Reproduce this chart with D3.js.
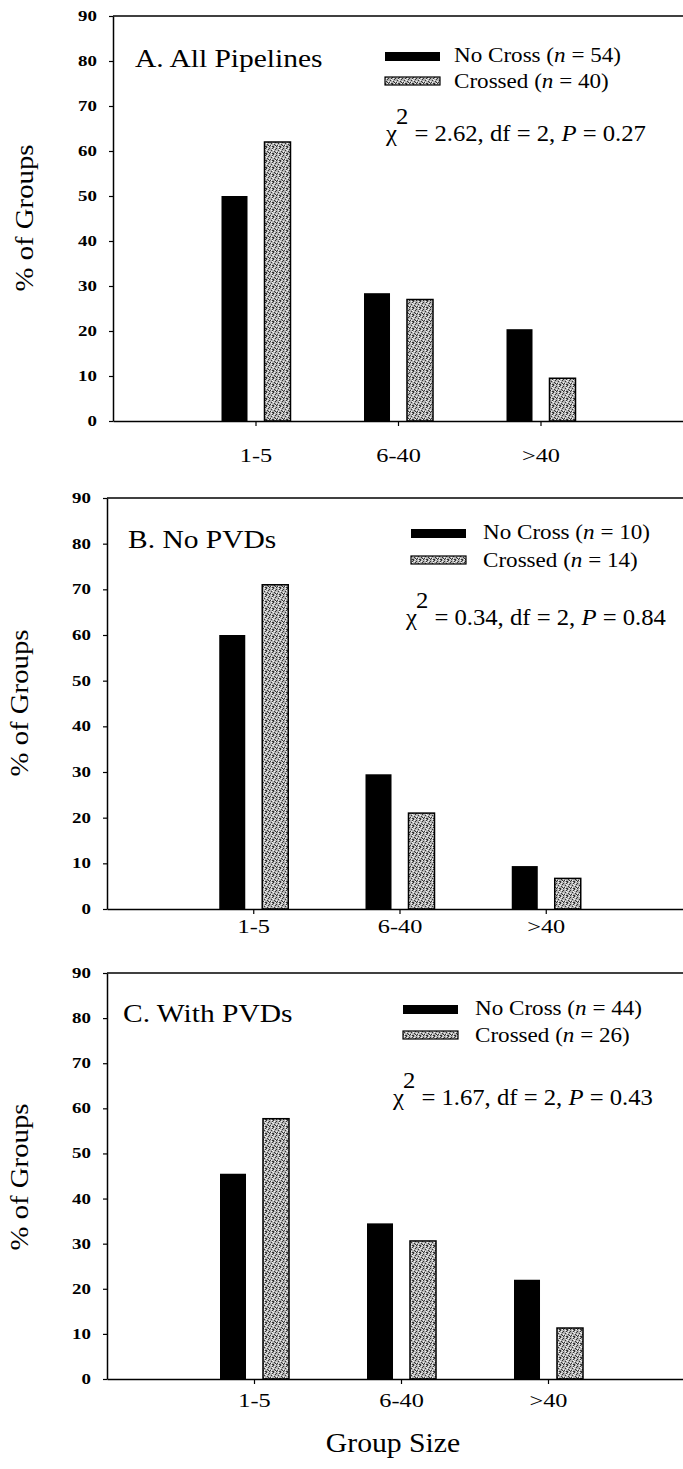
<!doctype html>
<html>

<head>
    <meta charset="UTF-8">
    <title>group size by crossing</title>
    <script src="https://d3js.org/d3.v7.min.js"></script>
    <style>
        body {
            margin: 0;
            background: #fff;
        }

        text {
            font-family: "Liberation Serif", "Times New Roman", serif;
            fill: #000;
        }
    </style>
</head>

<body>
    <svg width="683" height="1469"></svg>
    <script>
        // data
        var categories = ["1-5", "6-40", ">40"];
        var yTicks = [0, 10, 20, 30, 40, 50, 60, 70, 80, 90];
        var panelTitles = ["A. All Pipelines", "B. No PVDs", "C. With PVDs"];
        var noCrossA = [50, 28.4, 20.4];
        var crossedA = [62, 27, 9.5];
        var noCrossB = [60, 29.5, 9.4];
        var crossedB = [71, 21, 6.7];
        var noCrossC = [45.5, 34.5, 22];
        var crossedC = [57.7, 30.6, 11.3];
        var nNoCross = [54, 10, 44];
        var nCrossed = [40, 14, 26];
        var chiSq = ["2.62", "0.34", "1.67"];
        var pValues = ["0.27", "0.84", "0.43"];

        var svg = d3.select("svg");

        // speckled fill for the "Crossed" bars
        var pat = svg.append("defs").append("pattern")
            .attr("id", "stipple")
            .attr("patternUnits", "userSpaceOnUse")
            .attr("width", 7)
            .attr("height", 7);
        pat.append("rect").attr("width", 7).attr("height", 7).attr("fill", "#b2b2b2");
        var dark = [[0, 0], [3, 1], [5, 3], [1, 4], [4, 5], [6, 6], [2, 2], [0, 6], [6, 1], [3, 6], [2, 5]];
        var light = [[1, 1], [5, 0], [3, 4], [6, 2], [2, 6], [0, 3], [5, 5]];
        dark.forEach(function (p) {
            pat.append("rect").attr("x", p[0]).attr("y", p[1]).attr("width", 1).attr("height", 1).attr("fill", "#333");
        });
        light.forEach(function (p) {
            pat.append("rect").attr("x", p[0]).attr("y", p[1]).attr("width", 1).attr("height", 1).attr("fill", "#f4f4f4");
        });

        var panels = [
            { x0: 113, xR: 683, top: 16, bottom: 421, noCross: noCrossA, crossed: crossedA,
              title: [135, 67], swX: 385, txX: 454, row1: 62, row2: 88, chiX: 386, chiY: 141, yLab: [33, 218], xLab: 41 },
            { x0: 107, xR: 692, top: 498, bottom: 909, noCross: noCrossB, crossed: crossedB,
              title: [128, 548], swX: 411, txX: 483, row1: 539, row2: 567, chiX: 406, chiY: 625, yLab: [28, 703], xLab: 24 },
            { x0: 107, xR: 695, top: 973, bottom: 1379, noCross: noCrossC, crossed: crossedC,
              title: [123, 1022], swX: 403, txX: 475, row1: 1015, row2: 1042, chiX: 393, chiY: 1105, yLab: [28, 1177], xLab: 28 }
        ];

        function label(g, x, y, size, sx, anchor) {
            return g.append("text")
                .attr("transform", "translate(" + x + "," + y + ") scale(" + sx + ",1)")
                .attr("font-size", size)
                .attr("text-anchor", anchor || "start");
        }

        panels.forEach(function (p, k) {
            var g = svg.append("g");
            var x = d3.scaleLinear().domain([0, 4]).range([p.x0, p.xR]);
            var y = d3.scaleLinear().domain([0, 90]).range([p.bottom, p.top]);
            var sub = d3.scaleBand().domain(["noCross", "crossed"]).range([-34, 35]).paddingInner(0.395);

            // bars
            var rows = categories.map(function (c, i) {
                return { i: i + 1, noCross: p.noCross[i], crossed: p.crossed[i] };
            });
            g.selectAll(".nc").data(rows).enter().append("rect")
                .attr("x", function (d) { return x(d.i) + sub("noCross"); })
                .attr("y", function (d) { return y(d.noCross); })
                .attr("width", sub.bandwidth())
                .attr("height", function (d) { return y(0) - y(d.noCross); })
                .attr("fill", "#000");
            g.selectAll(".cr").data(rows).enter().append("rect")
                .attr("x", function (d) { return x(d.i) + sub("crossed"); })
                .attr("y", function (d) { return y(d.crossed); })
                .attr("width", sub.bandwidth())
                .attr("height", function (d) { return y(0) - y(d.crossed); })
                .attr("fill", "url(#stipple)")
                .attr("stroke", "#000")
                .attr("stroke-width", 1.5);

            // top frame line
            g.append("line")
                .attr("x1", p.x0).attr("x2", 683)
                .attr("y1", y(90)).attr("y2", y(90))
                .attr("stroke", "#000").attr("stroke-width", 1.5);

            // y axis
            var sy = 1.35;
            var ya = g.append("g")
                .attr("transform", "translate(" + p.x0 + ",0)")
                .call(d3.axisLeft(y).tickValues(yTicks).tickSize(4).tickSizeOuter(0));
            ya.select(".domain").attr("stroke-width", 1.5);
            ya.selectAll(".tick line").attr("stroke-width", 1.2);
            ya.selectAll(".tick text")
                .attr("x", -16 / sy)
                .attr("transform", "scale(" + sy + ",1)")
                .attr("font-size", 14)
                .attr("font-weight", "bold")
                .attr("font-family", "Liberation Serif, serif");

            // x axis
            var sxl = 1.28;
            var xa = g.append("g")
                .attr("transform", "translate(0," + y(0) + ")")
                .call(d3.axisBottom(x).tickValues([1, 2, 3])
                    .tickFormat(function (v) { return categories[v - 1]; })
                    .tickSize(5).tickSizeOuter(0));
            xa.select(".domain").attr("stroke-width", 1.5);
            xa.selectAll(".tick line").attr("stroke-width", 1.2);
            xa.selectAll(".tick text")
                .attr("y", p.xLab)
                .attr("dy", 0)
                .attr("transform", "scale(" + sxl + ",1)")
                .attr("font-size", 19)
                .attr("font-family", "Liberation Serif, serif");

            // panel title
            label(g, p.title[0], p.title[1], 25, 1.18).text(panelTitles[k]);

            // legend
            g.append("rect").attr("x", p.swX).attr("y", p.row1 - 10).attr("width", 55).attr("height", 9)
                .attr("fill", "#000");
            g.append("rect").attr("x", p.swX).attr("y", p.row2 - 11).attr("width", 55).attr("height", 8)
                .attr("fill", "url(#stipple)").attr("stroke", "#000").attr("stroke-width", 1.2);
            var t1 = label(g, p.txX, p.row1, 22, 1.05);
            t1.append("tspan").text("No Cross (");
            t1.append("tspan").attr("font-style", "italic").text("n");
            t1.append("tspan").text(" = " + nNoCross[k] + ")");
            var t2 = label(g, p.txX, p.row2, 22, 1.05);
            t2.append("tspan").text("Crossed (");
            t2.append("tspan").attr("font-style", "italic").text("n");
            t2.append("tspan").text(" = " + nCrossed[k] + ")");

            // chi-square line
            var c = label(g, p.chiX, p.chiY, 23.5, 1.05);
            c.append("tspan").text("\u03c7");
            c.append("tspan").attr("dx", -1).attr("dy", -17).text("2");
            c.append("tspan").attr("dy", 17).text(" = " + chiSq[k] + ", df = 2, ");
            c.append("tspan").attr("font-style", "italic").text("P");
            c.append("tspan").text(" = " + pValues[k]);

            // y label
            g.append("text")
                .attr("transform", "translate(" + p.yLab[0] + "," + p.yLab[1] + ") rotate(-90) scale(1.15,1)")
                .attr("font-size", 25)
                .attr("text-anchor", "middle")
                .text("% of Groups");
        });

        label(svg, 393, 1452, 27, 1.1, "middle").text("Group Size");
    </script>
</body>

</html>
